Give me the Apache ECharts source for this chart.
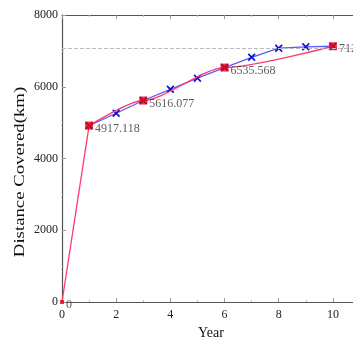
<!DOCTYPE html>
<html><head><meta charset="utf-8">
<script src="https://cdn.jsdelivr.net/npm/echarts@6/dist/echarts.min.js"></script>
<style>html,body{margin:0;padding:0;background:#fff}#c{width:353px;height:338px}</style>
</head><body><div id="c"></div>
<script>
const blueYears = [1,2,3,4,5,6,7,8,9,10];
const blueValues = [4917.118,5262,5616.077,5929,6240,6535.568,6821,7075,7112,7129];
const redYears = [0,1,3,6,10];
const redValues = [0,4917.118,5616.077,6535.568,7129];
const redLabels = ['0','4917.118','5616.077','6535.568','7129'];
const refLevel = 7070;
const yTicks = [0,2000,4000,6000,8000];
const xTicks = [0,2,4,6,8,10];

const font = 'Liberation Serif';
const xPath = 'path://M0,1.5L1.5,0L5,3.5L8.5,0L10,1.5L6.5,5L10,8.5L8.5,10L5,6.5L1.5,10L0,8.5L3.5,5Z';
const chart = echarts.init(document.getElementById('c'), null, {renderer:'canvas'});
const axisCommon = {
  axisLine:{show:true,lineStyle:{color:'#555',width:1.2}},
  axisTick:{show:true,inside:true,length:4,lineStyle:{color:'#999'}},
  minorTick:{show:true,splitNumber:2,length:2,lineStyle:{color:'#bbb'}},
  splitLine:{show:false}
};
const redPts = redYears.map((x,i)=>[x,redValues[i]]);
chart.setOption({
  animation:false,
  grid:{left:62,right:-7,top:15,bottom:36,containLabel:false,outerBoundsMode:'none'},
  graphic:[{type:'text',rotation:Math.PI/2,
    x:20,y:172,scaleX:1.25,
    style:{text:'Distance Covered(km)',fontFamily:font,fontSize:15,fill:'#111',
      align:'center',verticalAlign:'middle'}}],
  xAxis:[Object.assign({
    type:'value',min:0,max:11,interval:2,
    name:'Year',nameLocation:'middle',nameGap:22,
    nameTextStyle:{fontFamily:font,fontSize:14,color:'#111'},
    axisLabel:{fontFamily:font,fontSize:12,color:'#222',margin:7,
      formatter:v=>xTicks.includes(v)?String(v):''}
  },axisCommon),
  Object.assign({
    type:'value',min:0,max:11,interval:2,position:'top',axisLabel:{show:false}
  },axisCommon)],
  yAxis:Object.assign({
    type:'value',min:0,max:8000,interval:2000,
    axisLabel:{fontFamily:font,fontSize:12,color:'#222',margin:4,
      formatter:v=>yTicks.includes(v)?String(v):''}
  },axisCommon),
  series:[
    {type:'line',data:blueYears.map((x,i)=>[x,blueValues[i]]),
     lineStyle:{color:'#5a5aff',width:1.3},
     symbol:xPath,symbolSize:8,itemStyle:{color:'#1010d0'},z:2,
     markLine:{silent:true,symbol:'none',label:{show:false},
       lineStyle:{color:'#bbb',type:'dashed',width:1},
       data:[{yAxis:refLevel}]}},
    {type:'line',data:redPts.slice(0,2),symbol:'none',
     lineStyle:{color:'#ff3b6b',width:1.3},z:3},
    {type:'line',data:redPts.slice(1),
     smooth:0.25,smoothMonotone:'x',
     lineStyle:{color:'#ff3b6b',width:1.3},symbol:'none',z:3},
    {type:'scatter',data:redPts,
     symbol:'rect',symbolSize:(v,p)=>p.dataIndex===0?4:8,
     itemStyle:{color:'#e00010'},z:4,
     label:{show:true,position:'right',distance:2,offset:[0,3],
       fontFamily:font,fontSize:12,color:'#333',
       formatter:p=>redLabels[p.dataIndex]}}
  ]
});
</script></body></html>
